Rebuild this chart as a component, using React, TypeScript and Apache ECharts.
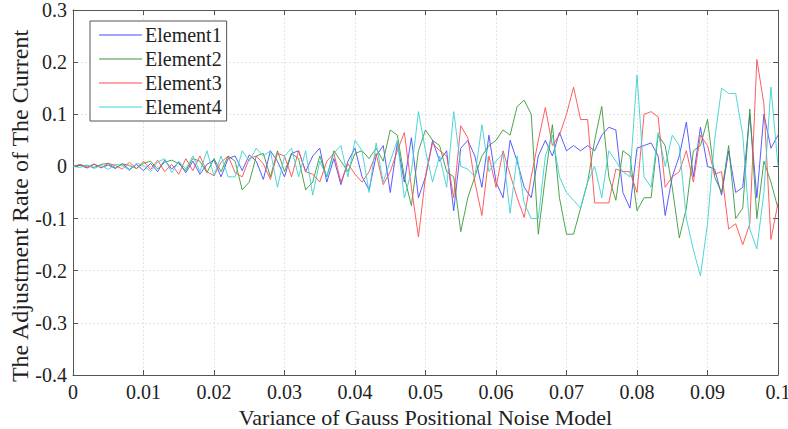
import React, { useEffect, useRef } from "react";
import * as echarts from "echarts";

const xValues: number[] = Array.from({ length: 101 }, (_, i) => +(i * 0.001).toFixed(3));

const seriesNames = ["Element1", "Element2", "Element3", "Element4"];
const seriesColors = ["#4a4aff", "#3a9a3a", "#ff4d4d", "#3cd2d2"];

const element1: number[] = [
  0, 0.002, -0.003, 0.004, -0.002, 0.003, -0.004, 0.005, -0.006, 0.004,
  -0.008, 0.006, -0.01, 0.012, -0.005, 0.008, -0.012, 0.01, -0.015, 0.004,
  0.012, -0.02, 0.015, 0.02, -0.008, 0.022, 0.01, -0.025, 0.03, 0.01,
  -0.02, 0.025, 0.03, -0.01, 0.02, 0.035, -0.03, 0.015, -0.035, 0.01,
  0.035, -0.02, -0.045, 0.02, 0.04, -0.05, 0.045, -0.03, 0.055, -0.06,
  -0.02, 0.05, 0.01, 0.03, -0.085, 0.035, 0.05, 0.02, -0.04, 0.06,
  -0.03, -0.06, 0.05, 0.01, -0.04, -0.06, 0.02, 0.05, 0.02, 0.065,
  0.03, 0.04, 0.03, 0.04, 0.03, 0.06, 0.075, 0.07, -0.05, -0.08,
  0.035, 0.04, 0.045, 0.02, -0.094, -0.02, 0.02, 0.085, -0.02, 0.075,
  0.0, -0.005, -0.055, 0.03, -0.05, -0.04, 0.1, -0.06, 0.1, 0.035,
  0.06,
];

const element2: number[] = [
  0, 0.003, 0.001, -0.002, 0.004, 0.006, -0.003, 0.005, 0.002, -0.004,
  0.006, 0.01, -0.005, 0.008, 0.012, 0.005, -0.008, 0.015, 0.01, -0.012,
  0.015, -0.01, 0.02, 0.01, -0.045, -0.03, 0.02, 0.025, -0.02, 0.03,
  -0.01, 0.025, 0.015, -0.045, -0.03, 0.02, -0.02, 0.03, 0.01, -0.01,
  0.025, 0.03, 0.015, 0.035, 0.01, 0.07, 0.06, -0.02, -0.075, 0.03,
  0.07, 0.05, 0.04, -0.01, -0.02, -0.125, -0.06, -0.02, 0.02, 0.04,
  0.05, 0.07, 0.06, 0.115, 0.127, 0.1, -0.13, -0.02, 0.08, -0.06,
  -0.13, -0.13, -0.08, -0.03, 0.05, 0.115, -0.02, -0.065, 0.03, 0.02,
  -0.085, -0.06, -0.06, 0.06, 0.04, -0.04, -0.137, -0.08, 0.03, 0.04,
  0.09, -0.02, -0.05, 0.04, -0.1, -0.08, 0.11, -0.1, 0.01, -0.03,
  -0.08,
];

const element3: number[] = [
  0, 0.004, -0.002, 0.005, -0.003, 0.006, 0.002, -0.005, 0.008, -0.004,
  0.01, -0.006, 0.012, -0.01, 0.004, -0.015, 0.015, -0.008, 0.02, -0.01,
  -0.018, 0.008, 0.02, -0.012, -0.02, 0.015, 0.02, 0.005, -0.025, 0.025,
  0.02, -0.02, 0.03, -0.01, -0.015, -0.03, 0.01, 0.025, -0.03, 0.005,
  -0.015, -0.03, -0.01, 0.025, -0.035, -0.01, 0.03, 0.065, -0.04, -0.135,
  -0.02, 0.045, 0.03, 0.02, -0.06, 0.078, 0.055, -0.03, -0.094, 0.02,
  -0.04, 0.03, -0.015, -0.06, -0.098, -0.02, 0.05, 0.113, 0.04, 0.06,
  0.1, 0.152, 0.09, 0.09, -0.07, -0.07, -0.07, -0.005, -0.01, -0.01,
  -0.05, 0.1, 0.105, 0.095, -0.04, -0.02, -0.01, 0.03, -0.03, 0.06,
  0.04, -0.015, -0.01, -0.12, -0.11, -0.15, -0.11, 0.205, 0.12, -0.14,
  -0.07,
];

const element4: number[] = [
  0, -0.002, 0.003, -0.004, 0.002, -0.006, 0.004, 0.002, -0.008, 0.006,
  0.002, -0.01, 0.008, 0.015, -0.012, 0.01, -0.005, 0.02, -0.01, 0.03,
  -0.018, 0.02, -0.02, -0.02, 0.03, 0.01, 0.035, 0.02, 0.03, -0.04,
  0.02, 0.035, -0.02, 0.03, -0.055, 0.01, -0.02, 0.025, 0.04, -0.02,
  0.05, 0.03, -0.05, 0.045, -0.03, 0.01, 0.05, -0.06, -0.01, 0.105,
  0.03, -0.03, 0.02, -0.04, 0.105, 0.0, -0.005, -0.02, 0.08, -0.01,
  0.01, 0.025, -0.09, 0.02, -0.07, -0.1, -0.1, 0.02, 0.06, -0.02,
  -0.05, -0.065, -0.08, -0.03, 0.0, -0.06, 0.03, 0.01, -0.01, -0.02,
  0.175, -0.02, -0.04, 0.065, 0.0, 0.06, 0.04, -0.1, -0.16, -0.21,
  -0.11, 0.05, 0.15, 0.14, 0.14, 0.06, -0.12, -0.158, -0.05, 0.152,
  0.0,
];

const seriesValues = [element1, element2, element3, element4];

const xTickLabels = ["0", "0.01", "0.02", "0.03", "0.04", "0.05", "0.06", "0.07", "0.08", "0.09", "0.1"];
const yAxisTitle = "The Adjustment Rate of The Current";
const xAxisTitle = "Variance of Gauss Positional Noise Model";

const FONT = "Liberation Serif";

export default function App() {
  const ref = useRef<HTMLDivElement>(null);
  useEffect(() => {
    if (!ref.current) return;
    const chart = echarts.init(ref.current, undefined, { renderer: "svg" });
    const axisLine = { show: true, onZero: false, lineStyle: { color: "#555", width: 1 } };
    const axisTick = { show: true, inside: true, length: 5, lineStyle: { color: "#555" } };
    chart.setOption({
      animation: false,
      backgroundColor: "#fff",
      grid: { left: 73, right: 10, top: 10, bottom: 54, containLabel: false, outerBoundsMode: "none" },
      graphic: [
        {
          type: "text",
          x: 20,
          y: 206,
          rotation: Math.PI / 2,
          style: {
            text: yAxisTitle,
            font: `24px ${FONT}`,
            fill: "#222",
            textAlign: "center",
            textVerticalAlign: "middle",
          },
        },
      ],
      legend: {
        orient: "vertical",
        left: 90,
        top: 21,
        backgroundColor: "#fff",
        borderColor: "#555",
        borderWidth: 1,
        borderRadius: 0,
        padding: [4, 5, 4, 9],
        icon: "rect",
        itemWidth: 43,
        itemHeight: 1.2,
        itemGap: 4,
        textStyle: { fontFamily: FONT, fontSize: 20, color: "#222", padding: [0, 0, 0, -2] },
        data: seriesNames,
      },
      xAxis: [
        {
          type: "value",
          min: 0,
          max: 0.1,
          interval: 0.01,
          position: "bottom",
          name: xAxisTitle,
          nameLocation: "middle",
          nameGap: 27,
          nameTextStyle: { fontFamily: FONT, fontSize: 22, color: "#222" },
          axisLine,
          axisTick,
          axisLabel: {
            fontFamily: FONT,
            fontSize: 20,
            color: "#222",
            margin: 7,
            formatter: (v: number) => xTickLabels[Math.round(v * 100)] ?? "",
          },
          splitLine: { show: true, lineStyle: { color: "#e4e4e4", type: [2, 2] } },
        },
        {
          type: "value",
          min: 0,
          max: 0.1,
          interval: 0.01,
          position: "top",
          axisLine,
          axisTick,
          axisLabel: { show: false },
          splitLine: { show: false },
        },
      ],
      yAxis: [
        {
          type: "value",
          min: -0.4,
          max: 0.3,
          interval: 0.1,
          position: "left",
          axisLine,
          axisTick,
          axisLabel: {
            fontFamily: FONT,
            fontSize: 20,
            color: "#222",
            margin: 6,
            formatter: (v: number) => {
              const r = Math.round(v * 10) / 10;
              return r === 0 ? "0" : r.toFixed(1);
            },
          },
          splitLine: { show: true, lineStyle: { color: "#e4e4e4", type: [2, 2] } },
        },
        {
          type: "value",
          min: -0.4,
          max: 0.3,
          interval: 0.1,
          position: "right",
          axisLine,
          axisTick,
          axisLabel: { show: false },
          splitLine: { show: false },
        },
      ],
      series: seriesNames.map((name, k) => ({
        name,
        type: "line",
        xAxisIndex: 0,
        yAxisIndex: 0,
        symbol: "none",
        showSymbol: false,
        color: seriesColors[k],
        lineStyle: { width: 1, color: seriesColors[k], opacity: 0.9 },
        data: xValues.map((x, i) => [x, seriesValues[k][i]]),
      })),
    });
    return () => chart.dispose();
  }, []);
  return <div ref={ref} style={{ width: 788, height: 429, position: "absolute", left: 0, top: 0 }} />;
}
